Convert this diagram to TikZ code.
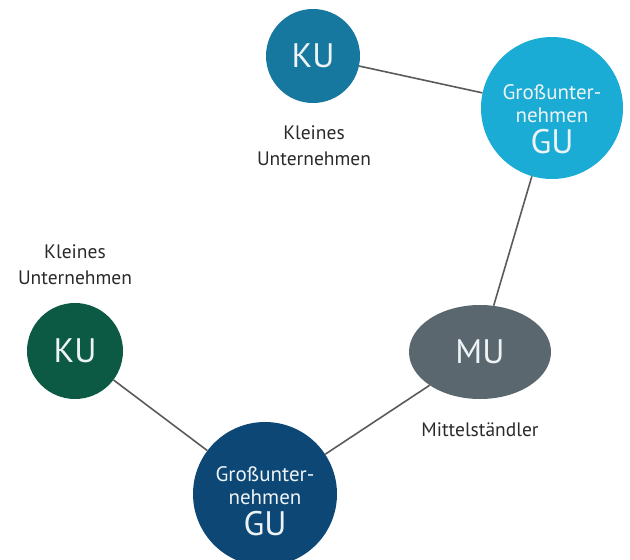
\documentclass[tikz,border=0pt]{standalone}
\usepackage{fontspec}
\setmainfont{PT Sans}
\usetikzlibrary{shapes.geometric}
\definecolor{kutop}{HTML}{16789F}
\definecolor{gutop}{HTML}{1AACD5}
\definecolor{mugray}{HTML}{5B676F}
\definecolor{kugreen}{HTML}{0D5A44}
\definecolor{gunavy}{HTML}{0D4776}
\definecolor{linegray}{HTML}{5A5A5A}
\definecolor{labelgray}{HTML}{2A2A2A}
\definecolor{offwhite}{HTML}{EEF3F5}
\tikzset{
  x=1pt, y=-1pt,
  bubble/.style={circle, inner sep=0pt, text=offwhite, align=center},
  conn/.style={draw=linegray, line width=1.6pt},
  lab/.style={text=labelgray, align=center, font=\fontsize{19.5}{26}\selectfont},
  bigtxt/.style={font=\fontsize{34}{34}\selectfont},
  gutxt/.style={text=offwhite, align=center, font=\fontsize{21}{23}\selectfont},
}
\newcommand{\biggu}{\fontsize{34}{34}\selectfont}
\begin{document}
\begin{tikzpicture}
\useasboundingbox (0,0) rectangle (630,560);
\node[bubble, fill=kutop, minimum size=94pt, bigtxt] (kut) at (313,56) {KU};
\node[bubble, fill=gutop, minimum size=142pt] (gut) at (552,108) {};
\node[gutxt] (gutl) at ([yshift=-11pt]gut.center) {Großunter-\\nehmen\\[6pt]\biggu GU};
\node[ellipse, fill=mugray, minimum width=142pt, minimum height=94pt, inner sep=0pt, text=offwhite, bigtxt] (mu) at (480,352) {MU};
\node[bubble, fill=kugreen, minimum size=96pt, bigtxt] (kul) at (75,351) {KU};
\node[bubble, fill=gunavy, minimum size=144pt] (gub) at (265,494) {};
\node[gutxt] (gubl) at ([yshift=-7pt]gub.center) {Großunter-\\nehmen\\[6pt]\biggu GU};
\node[lab] (labtop) at (314,146) {Kleines\\Unternehmen};
\node[lab] (lableft) at (75,265) {Kleines\\Unternehmen};
\node[lab] (labmu) at (480,430) {Mittelständler};
\draw[conn] (kut) -- (gut);
\draw[conn] (gut) -- (mu);
\draw[conn] (mu) -- (gub);
\draw[conn] (gub) -- (kul);
\end{tikzpicture}
\end{document}
